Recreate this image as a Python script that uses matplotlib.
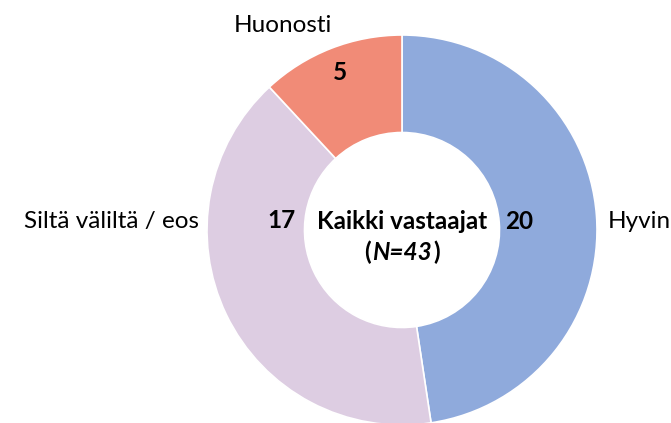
import matplotlib
matplotlib.use("Agg")
import matplotlib.pyplot as plt
import numpy as np
from matplotlib.offsetbox import TextArea, HPacker, AnnotationBbox

categories = ["Hyvin", "Siltä väliltä / eos", "Huonosti"]
values = [20, 17, 5]
colors = ["#8FAADC", "#DDCDE2", "#F18B77"]
total_n = 43

plt.rcParams["font.family"] = ["Lato", "DejaVu Sans"]
FS = 17.5

W, H = 671, 423
fig = plt.figure(figsize=(W / 100, H / 100), dpi=100)
ax = fig.add_axes([0, 0, 1, 1])

wedges, _ = ax.pie(values, colors=colors, startangle=90, counterclock=False,
                   radius=1.0, wedgeprops=dict(width=0.5, edgecolor="white", linewidth=1.2))

# pie geometry in pixels
cx, cy_top, R = 402, 230, 195
cy = H - cy_top
ax.set_aspect("auto")
ax.set_xlim(-cx / R, (W - cx) / R)
ax.set_ylim(-cy / R, (H - cy) / R)
ax.axis("off")

# value labels inside the ring (polar position: angle deg, radius)
label_pos = [(4.3, 0.6), (175.7, 0.62), (111.6, 0.87)]
for v, (ang, r) in zip(values, label_pos):
    a = np.deg2rad(ang)
    ax.text(r * np.cos(a), r * np.sin(a), str(v), ha="center", va="center",
            fontsize=FS, fontweight="bold", color="black")

# category labels outside the ring
ax.text(1.055, 0.045, categories[0], ha="left", va="center", fontsize=FS)
ax.text(-1.04, 0.045, categories[1], ha="right", va="center", fontsize=FS)
ax.text(-0.61, 1.05, categories[2], ha="center", va="center", fontsize=FS)

# centre title
ax.text(0, 0.045, "Kaikki vastaajat", ha="center", va="center",
        fontsize=FS, fontweight="bold")

# "(N=43)" with italic N and 43
parts = [("(", "normal"), ("N=43", "italic"), (")", "normal")]
boxes = [TextArea(t, textprops=dict(fontsize=FS, fontweight="bold", fontstyle=s))
         for t, s in parts]
pack = HPacker(children=boxes, align="baseline", pad=0, sep=1)
ab = AnnotationBbox(pack, (0, -0.115), frameon=False, box_alignment=(0.5, 0.5), pad=0)
ax.add_artist(ab)

fig.savefig("out.png", dpi=100)
